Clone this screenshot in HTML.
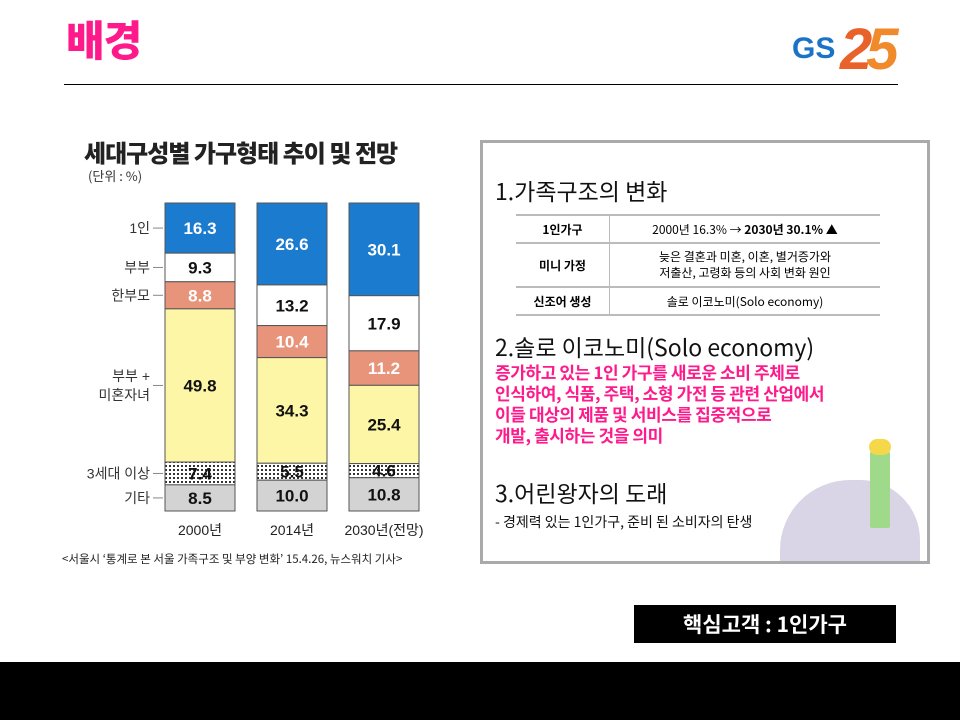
<!DOCTYPE html>
<html><head><meta charset="utf-8">
<style>
body{margin:0;width:960px;height:720px;background:#fff;position:relative;overflow:hidden;font-family:"Liberation Sans","Noto Sans CJK KR",sans-serif}
.abs{position:absolute}
.panel{left:480px;top:140px;width:444px;height:418px;border:3px solid #aaa;background:#fff;overflow:hidden}
.k{font-family:"Noto Sans CJK KR","Liberation Sans",sans-serif}
table{border-collapse:collapse;font-size:12px}
td{border-top:2px solid #bbb;border-bottom:2px solid #bbb;text-align:center;padding:0}
</style></head><body>
<div class="abs k" style="left:66px;top:14px;font-size:42px;font-weight:900;color:#ff1a8c;letter-spacing:-1px;line-height:50px">배경</div>
<div class="abs" style="left:792px;top:20px;width:140px;height:60px">
 <span style="position:absolute;left:0;top:12px;font:bold 30px 'Liberation Sans',sans-serif;color:#1a73c6">GS</span>
 <span style="position:absolute;left:48px;top:-4px;font:italic bold 58px 'Liberation Sans',sans-serif;color:#e8622a;letter-spacing:-6px">2<span style="color:#f08a2a">5</span></span>
</div>
<div class="abs" style="left:64px;top:84px;width:834px;height:1px;background:#000"></div>

<div class="abs k" style="left:84px;top:134px;font-size:24px;font-weight:900;color:#222;letter-spacing:-1px">세대구성별 가구형태 추이 및 전망</div>
<div class="abs k" style="left:88px;top:166px;font-size:13px;color:#333">(단위 : %)</div>

<svg class="abs" style="left:0;top:0" width="960" height="720">
<defs><pattern id="dots" width="4" height="4" patternUnits="userSpaceOnUse"><rect width="4" height="4" fill="#fff"/><rect x="1" y="1" width="2" height="2" fill="#333"/></pattern></defs>
<g id="bars"></g><g id="labels"></g>
</svg>

<div class="abs k" style="left:62px;top:551px;font-size:11.5px;color:#222">&lt;서울시 ‘통계로 본 서울 가족구조 및 부양 변화’ 15.4.26, 뉴스워치 기사&gt;</div>

<div class="abs panel k">
 <div class="abs" style="left:12px;top:30px;font-size:23px;color:#111">1.가족구조의 변화</div>
 <table class="abs" style="left:33px;top:71px;width:364px">
  <tr style="height:28px"><td style="width:93px;font-weight:bold;border-right:1px solid #bbb">1인가구</td><td>2000년 16.3% → <b>2030년 30.1% ▲</b></td></tr>
  <tr style="height:44px"><td style="font-weight:bold;border-right:1px solid #bbb">미니 가정</td><td style="line-height:16px">늦은 결혼과 미혼, 이혼, 별거증가와<br>저출산, 고령화 등의 사회 변화 원인</td></tr>
  <tr style="height:28px"><td style="font-weight:bold;border-right:1px solid #bbb">신조어 생성</td><td>솔로 이코노미(Solo economy)</td></tr>
 </table>
 <div class="abs" style="left:12px;top:188px;font-size:23px;color:#111;line-height:30px">2.솔로 이코노미(Solo economy)</div>
 <div class="abs" style="left:12px;top:218px;font-size:17px;font-weight:bold;color:#ff1a8c;line-height:21px;letter-spacing:-0.4px">증가하고 있는 1인 가구를 새로운 소비 주체로<br>인식하여, 식품, 주택, 소형 가전 등 관련 산업에서<br>이들 대상의 제품 및 서비스를 집중적으로<br>개발, 출시하는 것을 의미</div>
 <div class="abs" style="left:297px;top:337px;width:140px;height:90px;background:#d9d4e6;border-radius:70px 60px 0 0"></div>
 <div class="abs" style="left:387px;top:305px;width:20px;height:80px;background:#9fd98a;border-radius:6px 6px 2px 2px"></div>
 <div class="abs" style="left:386px;top:296px;width:22px;height:16px;background:#f5d84a;border-radius:10px"></div>
 <div class="abs" style="left:12px;top:332px;font-size:23px;color:#111">3.어린왕자의 도래</div>
 <div class="abs" style="left:12px;top:369px;font-size:14px;color:#111">- 경제력 있는 1인가구, 준비 된 소비자의 탄생</div>
</div>

<div class="abs k" style="left:634px;top:605px;width:262px;height:38px;background:#000;color:#fff;font-size:21px;font-weight:bold;line-height:38px;text-align:center">핵심고객 : 1인가구</div>
<div class="abs" style="left:0;top:662px;width:960px;height:58px;background:#000"></div>

<script>
const categories = ["2000년","2014년","2030년(전망)"];
const segments = ["1인","부부","한부모","부부+미혼자녀","3세대 이상","기타"];
const v2000 = [16.3,9.3,8.8,49.8,7.4,8.5];
const v2014 = [26.6,13.2,10.4,34.3,5.5,10.0];
const v2030 = [30.1,17.9,11.2,25.4,4.6,10.8];
const series = [v2000,v2014,v2030];
const fills = ["#1b7bce","#ffffff","#e8947a","#fcf6a6","url(#dots)","#d3d3d3"];
const textCol = ["#fff","#111","#fff","#111","#111","#111"];
const top0=203, bot0=511, barW=70;
function xPos(i){return 165+i*92;}
function yScale(frac){return top0+frac*(bot0-top0);}
const NS="http://www.w3.org/2000/svg";
const gb=document.getElementById('bars'), gl=document.getElementById('labels');
series.forEach((vals,i)=>{
  const total=vals.reduce((a,b)=>a+b,0);
  let acc=0;
  vals.forEach((v,j)=>{
    const y1=yScale(acc/total); acc+=v; const y2=yScale(acc/total);
    const r=document.createElementNS(NS,'rect');
    r.setAttribute('x',xPos(i));r.setAttribute('y',y1);r.setAttribute('width',barW);r.setAttribute('height',y2-y1);
    r.setAttribute('fill',fills[j]);r.setAttribute('stroke','#555');r.setAttribute('stroke-width','1');
    
    
    gb.appendChild(r);
    const t=document.createElementNS(NS,'text');
    t.setAttribute('x',xPos(i)+barW/2);t.setAttribute('y',(y1+y2)/2+6);t.setAttribute('text-anchor','middle');
    t.setAttribute('font-size','17');t.setAttribute('font-weight','bold');t.setAttribute('fill',textCol[j]);
    t.setAttribute('font-family','Liberation Sans, sans-serif');
    t.textContent=v.toFixed(1);
    
    
    gb.appendChild(t);
  });
  const c=document.createElementNS(NS,'text');
  c.setAttribute('x',xPos(i)+barW/2);c.setAttribute('y',535);c.setAttribute('text-anchor','middle');
  c.setAttribute('font-size','14');c.setAttribute('fill','#222');
  c.setAttribute('font-family','Liberation Sans, Noto Sans CJK KR, sans-serif');
  c.textContent=categories[i];
  
  
  gl.appendChild(c);
});
const v0=series[0], tot0=v0.reduce((a,b)=>a+b,0);
let acc0=0;
v0.forEach((v,j)=>{
  const y1=yScale(acc0/tot0); acc0+=v; const y2=yScale(acc0/tot0);
  const ym=(y1+y2)/2;
  const ln=document.createElementNS(NS,'line');
  ln.setAttribute('x1',153);ln.setAttribute('x2',163);ln.setAttribute('y1',ym);ln.setAttribute('y2',ym);ln.setAttribute('stroke','#888');
  
  
  gl.appendChild(ln);
  const lines = j===3 ? ["부부 +","미혼자녀"] : [segments[j]];
  lines.forEach((s,k)=>{
    const t=document.createElementNS(NS,'text');
    t.setAttribute('x',150);t.setAttribute('y',ym+5+(k-(lines.length-1)/2)*19);t.setAttribute('text-anchor','end');
    t.setAttribute('font-size','14');t.setAttribute('fill','#333');
    t.setAttribute('font-family','Liberation Sans, Noto Sans CJK KR, sans-serif');
    t.textContent=s;
    
    
    gl.appendChild(t);
  });
});
</script>
</body></html>
